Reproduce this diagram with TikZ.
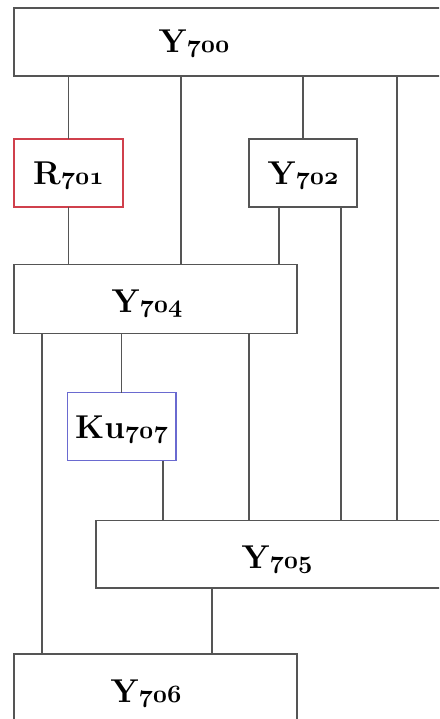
\documentclass[tikz,border=0pt]{standalone}
\definecolor{boxgray}{HTML}{555555}
\definecolor{boxred}{HTML}{D0404C}
\definecolor{boxblue}{HTML}{6A6AD0}
\newcommand{\osnum}[1]{{\usefont{OML}{cmm}{b}{it}#1}}
\newcommand{\lbl}[2]{\textbf{#1}\osnum{#2}}
\begin{document}
\begin{tikzpicture}[x=1pt,y=-1pt,
  box/.style={draw=boxgray, line width=1.4pt, inner sep=0pt, outer sep=0pt, anchor=north west},
  lab/.style={inner sep=0pt, anchor=base, font=\fontsize{33}{40}\selectfont},
  wire/.style={draw=boxgray, line width=1.3pt}]
\useasboundingbox (0,0) rectangle (439,719);
\clip (0,0) rectangle (439,719);
\fill[white] (0,0) rectangle (439,719);
% boxes
\node[box, minimum width=470pt, minimum height=68pt] (y700) at (14,8) {};
\node[box, draw=boxred, minimum width=109pt, minimum height=68pt] (r701) at (14,139) {};
\node[box, minimum width=108pt, minimum height=68pt] (y702) at (249,139) {};
\node[box, minimum width=283pt, minimum height=69pt] (y704) at (14,264.5) {};
\node[box, draw=boxblue, minimum width=108.5pt, minimum height=68pt] (ku707) at (67.3,392.5) {};
\node[box, minimum width=380pt, minimum height=67.5pt] (y705) at (96,520.5) {};
\node[box, minimum width=283pt, minimum height=100pt] (y706) at (14,654) {};
% labels
\node[lab] (t700) at (194,53) {\lbl{Y}{700}};
\node[lab] at (r701.center |- 0,185) (t701) {\lbl{R}{701}};
\node[lab] at (y702.center |- 0,185) (t702) {\lbl{Y}{702}};
\node[lab] (t704) at (147,312) {\lbl{Y}{704}};
\node[lab] at (ku707.center |- 0,438) (t707) {\lbl{Ku}{707}};
\node[lab] (t705) at (277,568) {\lbl{Y}{705}};
\node[lab] (t706) at (146,702) {\lbl{Y}{706}};
% connectors
\draw[wire] (y700.south -| r701.north) -- (r701.north);
\draw[wire] (y700.south -| 181,0) -- (y704.north -| 181,0);
\draw[wire] (y700.south -| y702.north) -- (y702.north);
\draw[wire] (y700.south -| 397,0) -- (y705.north -| 397,0);
\draw[wire] (r701.south) -- (y704.north -| r701.south);
\draw[wire] (y702.south -| 279,0) -- (y704.north -| 279,0);
\draw[wire] (y702.south -| 341,0) -- (y705.north -| 341,0);
\draw[wire] (y704.south -| 42,0) -- (y706.north -| 42,0);
\draw[wire] (y704.south -| ku707.north) -- (ku707.north);
\draw[wire] (y704.south -| 249,0) -- (y705.north -| 249,0);
\draw[wire] (ku707.south -| 163,0) -- (y705.north -| 163,0);
\draw[wire] (y705.south -| 212,0) -- (y706.north -| 212,0);
\end{tikzpicture}
\end{document}
